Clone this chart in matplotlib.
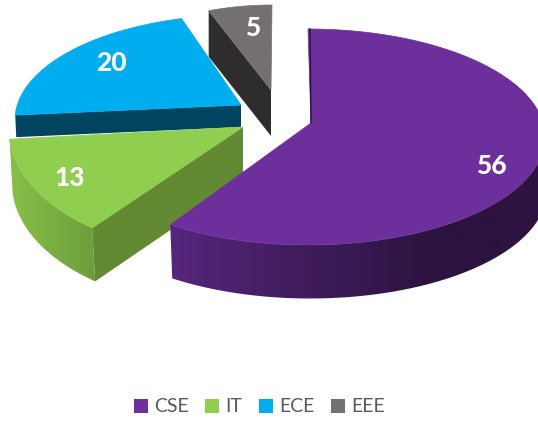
"""Exploded 3D pie of students per department."""

import matplotlib

matplotlib.use("Agg")
import matplotlib.pyplot as plt
import numpy as np
from matplotlib.colors import LinearSegmentedColormap
from matplotlib.patches import Polygon, Rectangle

DEPARTMENTS = ["CSE", "IT", "ECE", "EEE"]
STUDENTS = [56, 13, 20, 5]
TOP_COLORS = ["#6D2F9C", "#8FCE4F", "#00AEEF", "#757070"]
CUT_COLORS = ["#2A1240", "#628A33", "#00445F", "#2F2C2C"]

# perspective fit per slice, in pixels of the 538x421 picture
GEOMETRY = {
    "CSE": dict(c=(308, 137), r=(237, 108), apex=(311, 123), depth=53.5, dx=2, shift=0.0, scale=1.005),
    "IT": dict(c=(229, 130), r=(220, 125), apex=(243, 127), depth=53.5, dx=3, shift=4.0, scale=0.95),
    "ECE": dict(c=(240, 120), r=(225, 105), apex=(241, 105), depth=22, dx=1, shift=8.4, scale=0.944),
    "EEE": dict(c=(272, 109), r=(193, 104), apex=(271, 90), depth=46, dx=0, shift=0.0, scale=1.0),
}
LABEL_POS = {"CSE": (491.5, 166), "IT": (70, 178), "ECE": (111.5, 63), "EEE": (252.5, 28)}
LEGEND_X = {"CSE": (134, 154), "IT": (205, 225), "ECE": (259, 279), "EEE": (331, 351)}

plt.rcParams["font.family"] = ["Lato", "DejaVu Sans"]


def rim(geo, angles):
    """Points on the slice's elliptic rim, angles clockwise from the top."""
    t = np.radians(angles)
    x = geo["c"][0] + geo["r"][0] * np.sin(t)
    y = geo["c"][1] - geo["r"][1] * np.cos(t)
    return np.column_stack([x, y])


def add_gradient_wall(ax, geo, a0, a1, x_range, colors):
    """Outer wall of a slice, shaded from left to right and flat past x_range."""
    edge = rim(geo, np.linspace(a0, a1, 120))
    lower = edge + [geo["dx"], geo["depth"]]
    patch = Polygon(np.vstack([edge, lower[::-1]]), closed=True, fc="none", ec="none", transform=ax.transData)
    ax.add_patch(patch)
    cmap = LinearSegmentedColormap.from_list("wall", colors)
    xs = np.arange(0, 539)
    shade = np.clip((xs - x_range[0]) / (x_range[1] - x_range[0]), 0, 1)
    image = ax.imshow(
        shade.reshape(1, -1),
        cmap=cmap,
        extent=[0, 538, 421, 0],
        aspect="auto",
        zorder=patch.get_zorder(),
    )
    image.set_clip_path(patch)


def add_cut_wall(ax, geo, angle, color):
    """Flat cut face running from the rim to the apex."""
    start = rim(geo, np.array([angle]))[0]
    apex = np.array(geo["apex"], dtype=float)
    down = np.array([geo["dx"], geo["depth"]])
    corners = [start, apex, apex + [0, geo["depth"]], start + down]
    ax.add_patch(Polygon(corners, closed=True, fc=color, ec="none"))


def add_top(ax, geo, a0, a1, color):
    edge = rim(geo, np.linspace(a0, a1, 200))
    ax.add_patch(Polygon(np.vstack([geo["apex"], edge]), closed=True, fc=color, ec=color, lw=0.5))


def main():
    fig = plt.figure(figsize=(5.38, 4.21), dpi=100)
    ax = fig.add_axes([0, 0, 1, 1])

    total = sum(STUDENTS)
    sweeps = [360 * v / total for v in STUDENTS]
    starts = np.cumsum([0] + sweeps[:-1])
    spans = {}
    for name, start, sweep in zip(DEPARTMENTS, starts, sweeps):
        geo = GEOMETRY[name]
        a0 = start + geo["shift"]
        spans[name] = (a0, a0 + sweep * geo["scale"])

    # back to front
    geo = GEOMETRY["EEE"]
    add_cut_wall(ax, geo, spans["EEE"][0], CUT_COLORS[3])
    add_top(ax, geo, *spans["EEE"], TOP_COLORS[3])

    geo = GEOMETRY["ECE"]
    add_cut_wall(ax, geo, spans["ECE"][0], CUT_COLORS[2])
    add_top(ax, geo, *spans["ECE"], TOP_COLORS[2])

    geo = GEOMETRY["IT"]
    add_gradient_wall(ax, geo, *spans["IT"], (10, 93), ["#86BF48", "#6E9E3A"])
    add_cut_wall(ax, geo, spans["IT"][0], CUT_COLORS[1])
    add_top(ax, geo, *spans["IT"], TOP_COLORS[1])

    geo = GEOMETRY["CSE"]
    add_gradient_wall(ax, geo, 60, spans["CSE"][1], (171, 430), ["#55267C", "#2C1340"])
    add_top(ax, geo, *spans["CSE"], TOP_COLORS[0])
    ax.plot([310, 311], [29, 123], color=CUT_COLORS[0], lw=1.0)

    for name, value in zip(DEPARTMENTS, STUDENTS):
        x, y = LABEL_POS[name]
        ax.text(x, y, str(value), color="white", fontsize=19, fontweight="black", ha="center", va="center")

    for name, color in zip(DEPARTMENTS, TOP_COLORS):
        box_x, text_x = LEGEND_X[name]
        ax.add_patch(Rectangle((box_x, 399), 14, 14, fc=color, ec="none"))
        ax.text(text_x, 406, name, color="#595959", fontsize=14, ha="left", va="center")

    ax.set_xlim(0, 538)
    ax.set_ylim(421, 0)
    ax.axis("off")
    fig.savefig("out.png", dpi=100)


if __name__ == "__main__":
    main()
